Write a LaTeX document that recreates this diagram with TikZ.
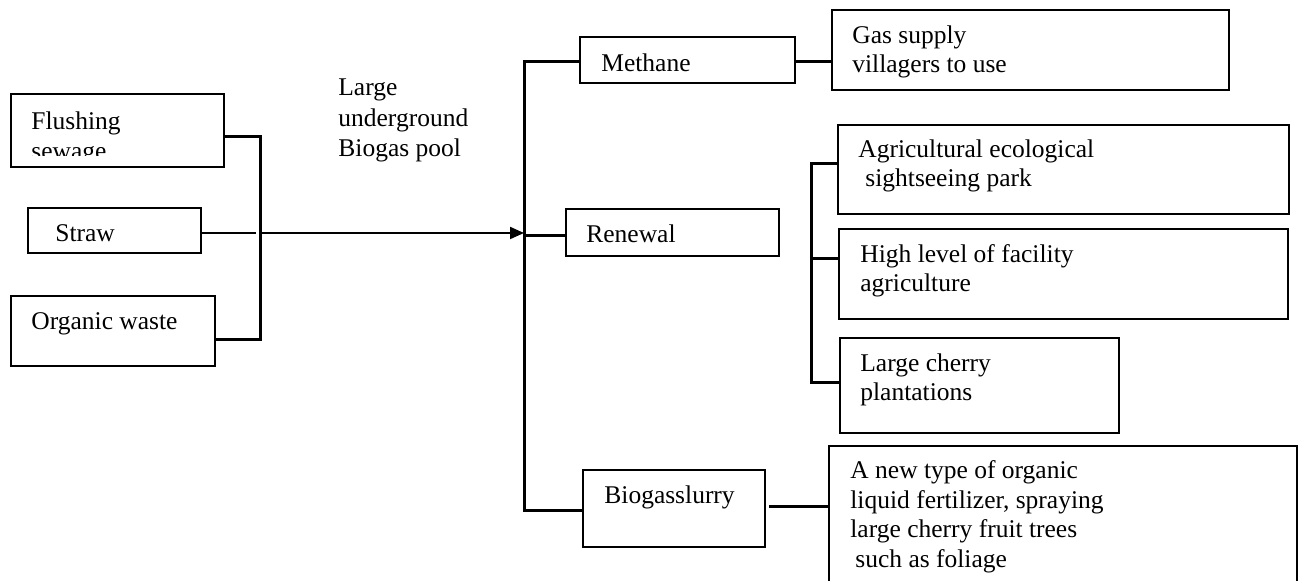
\documentclass[tikz,border=0pt]{standalone}
\usepackage{fontspec}
\setmainfont{Liberation Serif}
\usetikzlibrary{arrows.meta,fit}
\begin{document}
\begin{tikzpicture}[x=0.5pt,y=-0.5pt,
  box/.style={draw, line width=0.8pt, inner sep=0pt, rectangle},
  txt/.style={anchor=base west, inner sep=0pt, align=left, font=\fontsize{12.75pt}{14.75pt}\selectfont},
  bus/.style={line width=1.5pt, line join=miter},
  link/.style={line width=1pt}]
\useasboundingbox (0,0) rectangle (1301,581);
\clip (0,0) rectangle (1301,581);
% boxes
\node[box, fit={(11,94)(224,167)}] (flush) {};
\node[box, fit={(28,208)(201,253)}] (straw) {};
\node[box, fit={(11,296)(215,366)}] (org) {};
\node[box, fit={(580,37)(795,83)}] (meth) {};
\node[box, fit={(566,209)(779,256)}] (ren) {};
\node[box, fit={(583,470)(765,547)}] (slurry) {};
\node[box, fit={(832,10)(1229,90)}] (gas) {};
\node[box, fit={(838,125)(1289,214)}] (agri) {};
\node[box, fit={(839,229)(1288,319)}] (high) {};
\node[box, fit={(840,338)(1119,433)}] (cherry) {};
\node[box, fit={(829,446)(1297,620)}] (fert) {};
% texts (base anchor = baseline of last line)
\begin{scope}
\clip (11,94) rectangle (224,156);
\node[txt] (tflush) at (31,159.5) {Flushing\\sewage};
\end{scope}
\node[txt] (tstraw) at (55,242) {Straw};
\node[txt] (torg) at (31,330) {Organic waste};
\node[txt, font=\fontsize{12.75pt}{15.25pt}\selectfont] (pool) at (338,157) {Large\\underground\\Biogas pool};
\node[txt] (tmeth) at (601,72) {Methane};
\node[txt] (tren) at (586,243) {Renewal};
\node[txt] (tslurry) at (604,504) {Biogasslurry};
\node[txt] (tgas) at (852,73) {Gas supply\\villagers to use};
\node[txt] (tagri) at (858,187) {Agricultural ecological\\\hspace*{3.5pt}sightseeing park};
\node[txt] (thigh) at (860,292) {High level of facility\\agriculture};
\node[txt] (tcherry) at (860,401) {Large cherry\\plantations};
\node[txt] (tfert) at (850,567.5) {A new type of organic\\liquid fertilizer, spraying\\large cherry fruit trees\\\hspace*{2.5pt}such as foliage};
% connectors
\coordinate (j1) at (260,137);
\coordinate (j2) at (260,340);
\coordinate (j0) at (260,233);
\coordinate (s0) at (256,233);
\draw[bus] (flush.east |- j1) -- (j1) -- (j2) -- (org.east |- j2);
\draw[link] (straw.east |- s0) -- (s0);
\coordinate (m1) at (524,62);
\coordinate (m2) at (524,236);
\coordinate (m3) at (524,511);
\draw[bus] (meth.west |- m1) -- (m1) -- (m3) -- (slurry.west |- m3);
\draw[bus] (m2) -- (ren.west |- m2);
\draw[link, -{Triangle[length=7pt,width=6pt]}] (j0) -- (m1 |- j0);
\coordinate (g1) at (795,62);
\draw[bus] (meth.east |- g1) -- (gas.west |- g1);
\coordinate (r1) at (811,164);
\coordinate (r2) at (811,259);
\coordinate (r3) at (811,383);
\draw[bus] (agri.west |- r1) -- (r1) -- (r3) -- (cherry.west |- r3);
\draw[bus] (r2) -- (high.west |- r2);
\coordinate (f1) at (769,507);
\draw[bus] (f1) -- (fert.west |- f1);
\end{tikzpicture}
\end{document}
